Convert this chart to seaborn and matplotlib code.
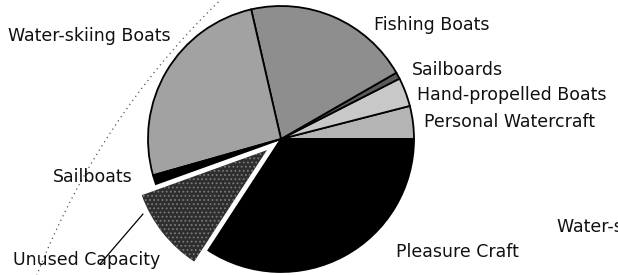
import matplotlib
matplotlib.use("Agg")
import matplotlib.pyplot as plt
from matplotlib.patches import Circle
import seaborn as sns

# Slices, counterclockwise from 3 o'clock (percent of total)
categories = ["Personal Watercraft", "Hand-propelled Boats", "Sailboards",
              "Fishing Boats", "Water-skiing Boats", "Sailboats",
              "Unused Capacity", "Pleasure Craft"]
shares = [4.0, 3.5, 0.8, 20.3, 25.8, 1.1, 10.3, 34.2]
explode_flags = [0, 0, 0, 0, 0, 0, 1, 0]

# Label text as printed (last one runs off the page)
label_texts = ["Water-skiing Boats", "Fishing Boats", "Sailboards",
               "Hand-propelled Boats", "Personal Watercraft", "Sailboats",
               "Unused Capacity", "Pleasure Craft", "Water-skiing Boats"]

W, H = 618, 275
CENTER = (281, H - 139)
RADIUS = 133
EXPLODE_PX = 18

sns.set_theme(style="white")
plt.rcParams['font.family'] = ['DejaVu Sans']
plt.rcParams['hatch.linewidth'] = 0.8

greys = ["#b4b4b4", "#c8c8c8", "#5a5a5a", "#8e8e8e", "#a2a2a2",
         "#000000", "#2e2e2e", "#000000"]

fig = plt.figure(figsize=(W / 100, H / 100), dpi=100)
ax = fig.add_axes([0, 0, 1, 1])

# faint dotted arc of the neighbouring chart
ax.add_patch(Circle((756, H - 556), 772, fill=False, color="#555555",
                    lw=0.9, linestyle=(0, (1, 3))))

# explode is in data units here (pixels), not a fraction of the radius
wedges, _ = ax.pie(shares, colors=greys, startangle=0, counterclock=True,
                   center=CENTER, radius=RADIUS,
                   explode=[EXPLODE_PX * e for e in explode_flags],
                   wedgeprops=dict(edgecolor="black", linewidth=1.3))
# halftone look for the pulled-out slice
wedges[6].set_edgecolor("#7a7a7a")
wedges[6].set_hatch("....")
wedges[6].set_linewidth(0)

ax.set_xlim(0, W)
ax.set_ylim(0, H)
ax.set_aspect("equal")
ax.axis("off")

# label anchors (left edge, baseline) in pixels from top-left
label_x = [8, 374, 412, 417, 424, 53, 13, 396, 557]
label_y = [41, 30, 75, 100, 127, 182, 265, 257, 232]
for txt, x, y in zip(label_texts, label_x, label_y):
    ax.text(x, H - y, txt, fontsize=12.5, ha="left", va="baseline", color="#111111")

# leader from "Unused Capacity" to its slice
ax.plot([100, 143], [H - 264, H - 214], color="black", lw=0.9)

fig.savefig("out.png", dpi=100, facecolor="white")
